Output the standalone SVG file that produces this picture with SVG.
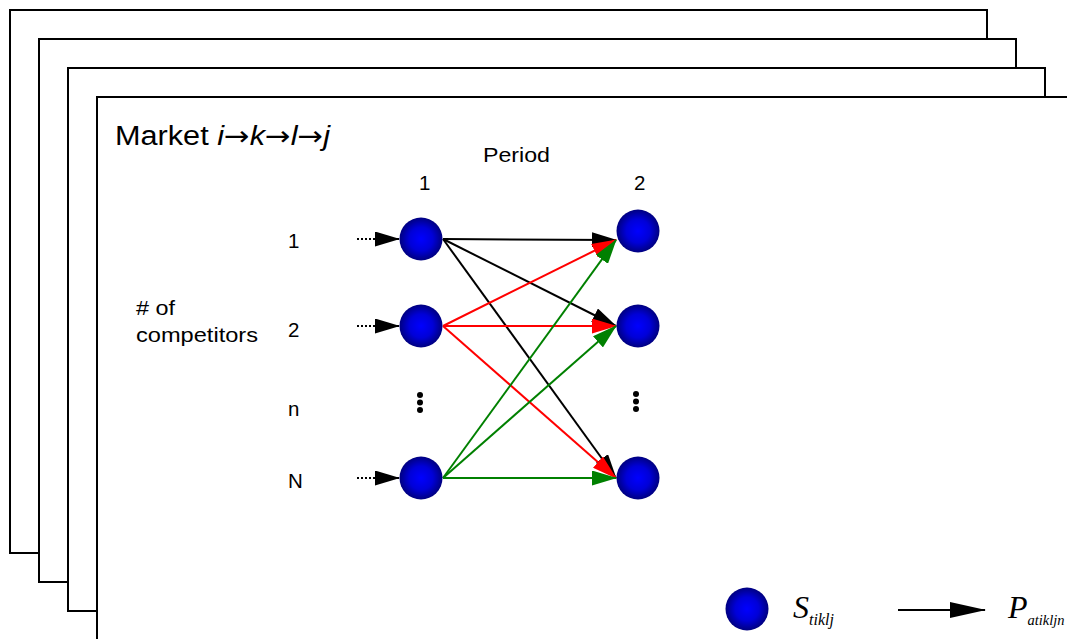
<svg xmlns="http://www.w3.org/2000/svg" width="1067" height="639" viewBox="0 0 1067 639">
<style>
.frame{fill:#fff;stroke:#000;stroke-width:2}
.lbl{font-family:"Liberation Sans",Arial,sans-serif;font-size:20.5px;fill:#000}
.title{font-family:"Liberation Sans",Arial,sans-serif;font-size:27px;fill:#000}
.arr{font-family:"DejaVu Sans",sans-serif;font-style:normal}
.tm{font-family:"Liberation Serif","Times New Roman",serif;font-style:italic;fill:#000}
.node{fill:url(#ball)}
.edge{stroke-width:2;fill:none}
.blk{stroke:#000}
.red{stroke:#ff0000}
.grn{stroke:#008000}
.dot{fill:#000}
</style>
<defs>
<radialGradient id="ball" cx="0.5" cy="0.5" r="0.5">
<stop offset="0" stop-color="#0000ff"/>
<stop offset="0.55" stop-color="#0000d8"/>
<stop offset="1" stop-color="#000080"/>
</radialGradient>
<marker id="ab" markerUnits="userSpaceOnUse" markerWidth="25" markerHeight="15" refX="24" refY="7.5" orient="auto"><path d="M0,0 L25,7.5 L0,15 z" fill="#000"/></marker>
<marker id="ar" markerUnits="userSpaceOnUse" markerWidth="25" markerHeight="15" refX="24" refY="7.5" orient="auto"><path d="M0,0 L25,7.5 L0,15 z" fill="#ff0000"/></marker>
<marker id="ag" markerUnits="userSpaceOnUse" markerWidth="25" markerHeight="15" refX="24" refY="7.5" orient="auto"><path d="M0,0 L25,7.5 L0,15 z" fill="#008000"/></marker>
<marker id="al" markerUnits="userSpaceOnUse" markerWidth="36" markerHeight="16" refX="35" refY="8" orient="auto"><path d="M0,0 L36,8 L0,16 z" fill="#000"/></marker>
</defs>
<rect x="0" y="0" width="1067" height="639" fill="#fff"/>
<g id="frames">
<rect class="frame" x="10" y="10" width="977" height="543"/>
<rect class="frame" x="39" y="39" width="977" height="543"/>
<rect class="frame" x="68" y="68" width="977" height="543"/>
<rect class="frame" x="97" y="97" width="1000" height="600"/>
</g>
<g id="labels">
<text class="title" x="115" y="145" textLength="215" lengthAdjust="spacingAndGlyphs">Market <tspan font-style="italic">i</tspan><tspan class="arr">→</tspan><tspan font-style="italic">k</tspan><tspan class="arr">→</tspan><tspan font-style="italic">l</tspan><tspan class="arr">→</tspan><tspan font-style="italic">j</tspan></text>
<text class="lbl" x="483" y="162" textLength="67" lengthAdjust="spacingAndGlyphs">Period</text>
<text class="lbl" x="419" y="190">1</text>
<text class="lbl" x="634" y="190">2</text>
<text class="lbl" x="288" y="248">1</text>
<text class="lbl" x="288" y="337">2</text>
<text class="lbl" x="288" y="416">n</text>
<text class="lbl" x="288" y="488">N</text>
<text class="lbl" x="136" y="315" textLength="39" lengthAdjust="spacingAndGlyphs"># of</text>
<text class="lbl" x="136" y="342" textLength="122" lengthAdjust="spacingAndGlyphs">competitors</text>
</g>
<g id="connectors">
<line class="edge blk" x1="357" y1="239" x2="377" y2="239" stroke-dasharray="2 2"/>
<line class="edge blk" x1="375" y1="239" x2="399" y2="239" marker-end="url(#ab)"/>
<line class="edge blk" x1="357" y1="326" x2="377" y2="326" stroke-dasharray="2 2"/>
<line class="edge blk" x1="375" y1="326" x2="399" y2="326" marker-end="url(#ab)"/>
<line class="edge blk" x1="357" y1="478" x2="377" y2="478" stroke-dasharray="2 2"/>
<line class="edge blk" x1="375" y1="478" x2="399" y2="478" marker-end="url(#ab)"/>
<line class="edge blk" x1="443" y1="239" x2="616" y2="240" marker-end="url(#ab)"/>
<line class="edge blk" x1="443" y1="239" x2="616" y2="326" marker-end="url(#ab)"/>
<line class="edge blk" x1="443" y1="239" x2="616" y2="478" marker-end="url(#ab)"/>
<line class="edge red" x1="443" y1="326" x2="616" y2="240" marker-end="url(#ar)"/>
<line class="edge red" x1="443" y1="326" x2="616" y2="326" marker-end="url(#ar)"/>
<line class="edge red" x1="443" y1="326" x2="616" y2="478" marker-end="url(#ar)"/>
<line class="edge grn" x1="443" y1="478" x2="616" y2="240" marker-end="url(#ag)"/>
<line class="edge grn" x1="443" y1="478" x2="616" y2="326" marker-end="url(#ag)"/>
<line class="edge grn" x1="443" y1="478" x2="616" y2="478" marker-end="url(#ag)"/>
</g>
<g id="n1-1"><circle class="node" cx="421" cy="239" r="21.5"/></g>
<g id="n1-2"><circle class="node" cx="421" cy="326" r="21.5"/></g>
<g id="n1-N"><circle class="node" cx="421" cy="478" r="21.5"/></g>
<g id="n2-1"><circle class="node" cx="638" cy="231" r="21.5"/></g>
<g id="n2-2"><circle class="node" cx="638" cy="326" r="21.5"/></g>
<g id="n2-N"><circle class="node" cx="638" cy="478" r="21.5"/></g>
<g id="ellipsis">
<circle class="dot" cx="420" cy="395" r="3"/>
<circle class="dot" cx="420" cy="402.5" r="3"/>
<circle class="dot" cx="420" cy="410" r="3"/>
<circle class="dot" cx="636" cy="394" r="3"/>
<circle class="dot" cx="636" cy="401.5" r="3"/>
<circle class="dot" cx="636" cy="409" r="3"/>
</g>
<g id="legend">
<circle class="node" cx="747" cy="609" r="21.5"/>
<text class="tm" x="793" y="618" font-size="32">S<tspan font-size="16" dy="7">tiklj</tspan></text>
<line class="edge blk" x1="898" y1="610" x2="985" y2="610" marker-end="url(#al)"/>
<text class="tm" x="1008" y="618" font-size="32">P<tspan font-size="14.5" dy="7">atikljn</tspan></text>
</g>
</svg>
